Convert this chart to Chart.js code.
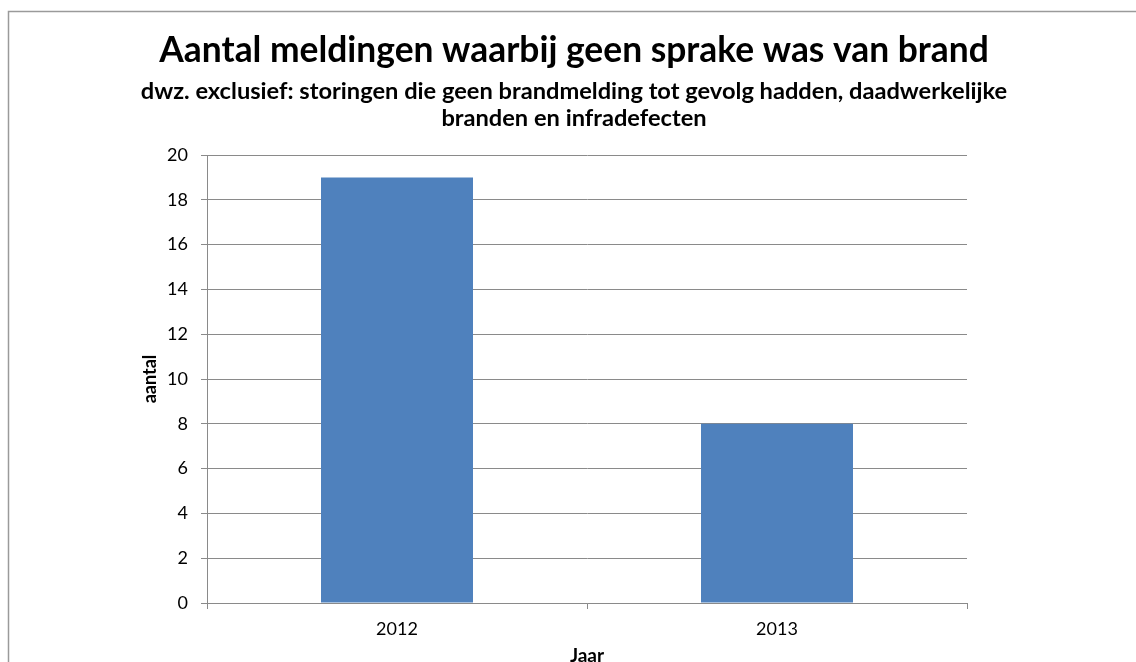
<!DOCTYPE html>
<html>
<head>
<meta charset="utf-8">
<script src="https://cdn.jsdelivr.net/npm/chart.js@4.4.1/dist/chart.umd.min.js"></script>
<style>
  html, body { margin: 0; padding: 0; background: #fff; }
  #wrap { width: 1136px; height: 662px; position: relative; overflow: hidden; }
</style>
</head>
<body>
<div id="wrap"><canvas id="c" width="1136" height="662"></canvas></div>
<script>
const categories = ['2012', '2013'];
const values = [19, 8];
const titleText = 'Aantal meldingen waarbij geen sprake was van brand';
const subtitleLines = [
  'dwz. exclusief: storingen die geen brandmelding tot gevolg hadden, daadwerkelijke',
  'branden en infradefecten'
];
const yAxisTitle = 'aantal';
const xAxisTitle = 'Jaar';

const FONT = 'Lato, "Open Sans", "DejaVu Sans", sans-serif';

function fitFont(ctx, text, targetWidth, weight) {
  ctx.font = weight + ' 100px ' + FONT;
  const w = ctx.measureText(text).width;
  return 100 * targetWidth / w;
}

const decor = {
  id: 'decor',
  beforeDraw(chart) {
    const ctx = chart.ctx;
    ctx.save();
    ctx.fillStyle = '#fff';
    ctx.fillRect(0, 0, chart.width, chart.height);
    ctx.restore();
  },
  afterDraw(chart) {
    const ctx = chart.ctx;
    ctx.save();
    // outer frame
    ctx.strokeStyle = '#9a9a9a';
    ctx.lineWidth = 1.5;
    ctx.beginPath();
    ctx.moveTo(8.5, 700);
    ctx.lineTo(8.5, 11.5);
    ctx.lineTo(1200, 11.5);
    ctx.stroke();
    // titles
    ctx.fillStyle = '#000';
    ctx.textAlign = 'center';
    ctx.textBaseline = 'alphabetic';
    const ts = fitFont(ctx, titleText, 830, 'bold');
    ctx.font = 'bold ' + ts + 'px ' + FONT;
    ctx.fillText(titleText, 574, 62);
    const ss = fitFont(ctx, subtitleLines[0], 867, 'bold');
    ctx.font = 'bold ' + ss + 'px ' + FONT;
    ctx.fillText(subtitleLines[0], 574, 99);
    ctx.fillText(subtitleLines[1], 574, 126);
    // y axis title
    const area = chart.chartArea;
    ctx.translate(150, (area.top + area.bottom) / 2);
    ctx.rotate(-Math.PI / 2);
    ctx.textBaseline = 'middle';
    ctx.font = 'bold 18px ' + FONT;
    ctx.fillText(yAxisTitle, 0, 0);
    ctx.restore();
  }
};

const gridColor = '#8a8a8a';

new Chart(document.getElementById('c'), {
  type: 'bar',
  data: {
    labels: categories,
    datasets: [{
      data: values,
      backgroundColor: '#4F81BD',
      borderWidth: 0,
      barPercentage: 0.4,
      categoryPercentage: 1.0
    }]
  },
  options: {
    responsive: false,
    devicePixelRatio: 1,
    animation: false,
    events: [],
    layout: { padding: { left: 0, top: 155, right: 169, bottom: 0 } },
    plugins: {
      legend: { display: false },
      tooltip: { enabled: false },
      title: { display: false }
    },
    scales: {
      y: {
        min: 0,
        max: 20,
        ticks: {
          stepSize: 2,
          color: '#000',
          padding: 13,
          font: { family: FONT, size: 18 }
        },
        grid: { color: gridColor, lineWidth: 1, tickLength: 6, drawTicks: true },
        border: { color: gridColor, width: 1 },
        afterFit(scale) { scale.width = 207; }
      },
      x: {
        ticks: {
          color: '#000',
          padding: 9,
          font: { family: FONT, size: 18 }
        },
        grid: { color: gridColor, drawOnChartArea: false, tickLength: 6, offset: true },
        border: { color: gridColor, width: 1 },
        title: {
          display: true,
          text: xAxisTitle,
          color: '#000',
          font: { family: FONT, size: 19, weight: 'bold' },
          padding: { top: 0, bottom: -5 }
        },
        afterFit(scale) { scale.height = 59; }
      }
    }
  },
  plugins: [decor]
});
</script>
</body>
</html>
